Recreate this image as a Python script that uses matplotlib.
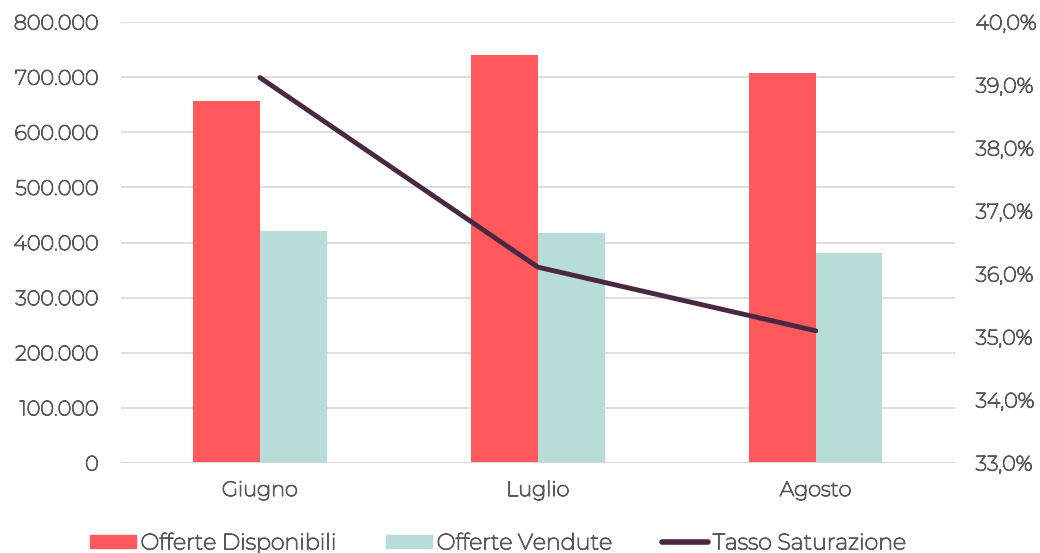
import numpy as np
import matplotlib.pyplot as plt
import matplotlib.ticker as mticker
import matplotlib.patheffects as pe
from matplotlib.lines import Line2D
from matplotlib.patches import Patch

mesi = ["Giugno", "Luglio", "Agosto"]
offerte_disponibili = [656000, 740000, 707000]
offerte_vendute = [421000, 417000, 381000]
tasso_saturazione = [39.12, 36.11, 35.10]

RED = "#FF585D"
TEAL = "#B8DDD8"
LINE = "#48293F"
TXT = "#595959"

# only the variable (thin) Montserrat is installed -> thicken it with a stroke
plt.rcParams['font.family'] = ['Montserrat', 'Lato', 'DejaVu Sans']
thick = [pe.withStroke(linewidth=0.85, foreground=TXT)]

fig = plt.figure(figsize=(10.4, 5.53), dpi=100)
ax = fig.add_axes([0.1163, 0.1627, 0.8017, 0.7973])

x = np.arange(len(mesi))
w = 0.24
ax.bar(x - w / 2, offerte_disponibili, w, color=RED, zorder=2)
ax.bar(x + w / 2, offerte_vendute, w, color=TEAL, zorder=2)

ax.set_xlim(-0.5, 2.5)
ax.set_ylim(0, 800000)
ax.yaxis.set_major_locator(mticker.MultipleLocator(100000))
ax.yaxis.set_major_formatter(mticker.FuncFormatter(
    lambda v, p: "0" if v == 0 else "{:,.0f}".format(v).replace(",", ".")))
ax.set_xticks(x)
ax.set_xticklabels(mesi)
ax.grid(axis="y", color="#D9D9D9", linewidth=1.2, zorder=0)
for s in ax.spines.values():
    s.set_visible(False)
ax.axhline(0, color="#D9D9D9", linewidth=1.5, zorder=3)
ax.tick_params(axis="both", length=0, labelsize=15, colors=TXT)
ax.tick_params(axis="y", pad=16)
ax.tick_params(axis="x", pad=13)

ax2 = ax.twinx()
ax2.plot(x, tasso_saturazione, color=LINE, linewidth=3.5, solid_capstyle="round", zorder=4)
ax2.set_ylim(33, 40)
ax2.yaxis.set_major_locator(mticker.MultipleLocator(1))
ax2.yaxis.set_major_formatter(mticker.FuncFormatter(
    lambda v, p: "{:.1f}%".format(v).replace(".", ",")))
for s in ax2.spines.values():
    s.set_visible(False)
ax2.tick_params(axis="y", length=0, labelsize=15, colors=TXT, pad=15)

handles = [Patch(color=RED), Patch(color=TEAL),
           Line2D([0], [0], color=LINE, linewidth=4, solid_capstyle="round")]
labels = ["Offerte Disponibili", "Offerte Vendute", "Tasso Saturazione"]
leg = fig.legend(handles, labels, loc="lower center", bbox_to_anchor=(0.479, -0.037), ncol=3,
                 frameon=False, fontsize=16, labelcolor=TXT, handlelength=2.07,
                 handleheight=0.5, handletextpad=0.2, columnspacing=2.25)

fig.canvas.draw()
for t in ax.get_xticklabels() + ax.get_yticklabels() + ax2.get_yticklabels() + leg.get_texts():
    t.set_path_effects(thick)

fig.savefig("out.png", dpi=100)
